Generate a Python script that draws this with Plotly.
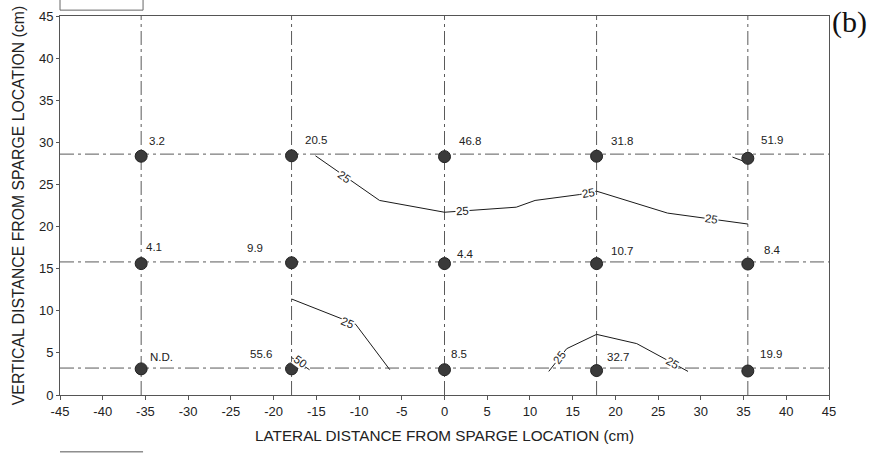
import plotly.graph_objects as go

# Sampling grid (cm)
grid_x = [-35.5, -17.9, 0.0, 17.8, 35.5]
grid_y = [28.6, 15.8, 3.2]

# Sampling points and measured values
pt_x = [-35.5, -17.9, 0.0, 17.8, 35.5,
        -35.5, -17.9, 0.0, 17.8, 35.5,
        -35.5, -17.9, 0.0, 17.8, 35.5]
pt_y = [28.35, 28.4, 28.3, 28.35, 28.1,
        15.6, 15.7, 15.6, 15.6, 15.55,
        3.1, 3.1, 3.0, 2.9, 2.85]
pt_labels = ["3.2", "20.5", "46.8", "31.8", "51.9",
             "4.1", "9.9", "4.4", "10.7", "8.4",
             "N.D.", "55.6", "8.5", "32.7", "19.9"]
# label placement (pixel offsets from point, anchor side)
lab_dx = [6, 11, 12, 12, 11, 3, -27, 10, 12, 14, 7, -18, 4, 8, 10]
lab_dy = [15, 16, 16, 15, 18, 17, 15, 10, 13, 14, 12, 15, 16, 14, 17]

# Iso-concentration contours
c25a_x = [-15.1, -7.6, 0.0, 8.4, 10.6, 15.8, 17.8, 26.1, 35.5]
c25a_y = [28.4, 23.1, 21.7, 22.3, 23.1, 23.8, 24.2, 21.6, 20.3]
c25b_x = [-17.9, -10.4, -6.4]
c25b_y = [11.4, 8.4, 3.0]
c25c_x = [12.2, 14.3, 17.8, 22.5, 28.5]
c25c_y = [2.8, 5.5, 7.2, 6.1, 2.8]
c50a_x = [-17.9, -15.8]
c50a_y = [4.45, 3.0]
c50b_x = [33.7, 34.9]
c50b_y = [28.25, 27.8]

# Contour labels
cl_x = [-11.7, 2.1, 16.8, 31.2, -11.3, -16.8, 13.5, 26.7]
cl_y = [25.9, 21.8, 24.0, 20.9, 8.55, 3.95, 4.5, 3.8]
cl_text = ["25", "25", "25", "25", "25", "50", "25", "25"]
cl_angle = [35, -3, -10, 8, 22, 36, -53, 29]

x_ticks = list(range(-45, 50, 5))
y_ticks = list(range(0, 50, 5))

GRID_DASH = "14px,4px,3px,4px"
GRID_COL = "#5a5a5a"
FONT = "Liberation Sans, Arial"

fig = go.Figure()

# dash-dot grid through sampling locations
for gx in grid_x:
    fig.add_trace(go.Scatter(x=[gx, gx], y=[0, 45], mode="lines",
                             line=dict(color=GRID_COL, width=1, dash=GRID_DASH),
                             hoverinfo="skip", showlegend=False))
for gy in grid_y:
    fig.add_trace(go.Scatter(x=[-45, 45], y=[gy, gy], mode="lines",
                             line=dict(color=GRID_COL, width=1, dash=GRID_DASH),
                             hoverinfo="skip", showlegend=False))

# contour lines
for cx, cy in [(c25a_x, c25a_y), (c25b_x, c25b_y), (c25c_x, c25c_y),
               (c50a_x, c50a_y), (c50b_x, c50b_y)]:
    fig.add_trace(go.Scatter(x=cx, y=cy, mode="lines",
                             line=dict(color="#1a1a1a", width=1),
                             hoverinfo="skip", showlegend=False))

# sampling points
fig.add_trace(go.Scatter(x=pt_x, y=pt_y, mode="markers",
                         marker=dict(size=12, color="#3a3a3a",
                                     line=dict(color="#222222", width=1)),
                         showlegend=False))

annotations = []
for x, y, t, dx, dy in zip(pt_x, pt_y, pt_labels, lab_dx, lab_dy):
    annotations.append(dict(x=x, y=y, text=t, showarrow=False,
                            xanchor="left" if dx >= 0 else "right",
                            yanchor="middle", xshift=dx, yshift=dy,
                            font=dict(family=FONT, size=11.5, color="#222222")))
for x, y, t, a in zip(cl_x, cl_y, cl_text, cl_angle):
    annotations.append(dict(x=x, y=y, text=t, showarrow=False,
                            textangle=a, bgcolor="white", borderpad=0,
                            font=dict(family=FONT, size=11.5, color="#222222")))

annotations.append(dict(x=1.0, y=1.0, xref="paper", yref="paper",
                        text="(b)", showarrow=False, xanchor="left",
                        yanchor="middle", xshift=1, yshift=-6,
                        font=dict(family="Liberation Serif, Times New Roman",
                                  size=30, color="#111111")))

fig.update_layout(
    width=875, height=454,
    margin=dict(l=60, r=46, t=9, b=59),
    paper_bgcolor="white", plot_bgcolor="white",
    annotations=annotations,
    shapes=[
        dict(type="rect", xref="paper", yref="paper",
             x0=0, x1=0.108, y0=1.0155, y1=1.06,
             line=dict(color="#666666", width=1)),
        dict(type="line", xref="paper", yref="paper",
             x0=0, x1=0.108, y0=-0.150, y1=-0.150,
             line=dict(color="#555555", width=1)),
    ],
    xaxis=dict(range=[-45, 45], tickvals=x_ticks,
               ticktext=[str(v) for v in x_ticks],
               showgrid=False, zeroline=False,
               showline=True, linecolor="#555555", linewidth=1, mirror=True,
               ticks="outside", ticklen=4, tickcolor="#555555",
               tickfont=dict(family=FONT, size=13, color="#222222"),
               title=dict(text="LATERAL DISTANCE FROM SPARGE LOCATION (cm)",
                          standoff=12,
                          font=dict(family=FONT, size=15.3, color="#222222"))),
    yaxis=dict(range=[0, 45], tickvals=y_ticks,
               ticktext=[str(v) for v in y_ticks],
               showgrid=False, zeroline=False,
               showline=True, linecolor="#555555", linewidth=1, mirror=True,
               ticks="outside", ticklen=3, tickcolor="#555555",
               tickfont=dict(family=FONT, size=13, color="#222222"),
               title=dict(text="VERTICAL DISTANCE FROM SPARGE LOCATION (cm)",
                          standoff=10,
                          font=dict(family=FONT, size=15.8, color="#222222"))),
)

fig.write_html("out.html")
